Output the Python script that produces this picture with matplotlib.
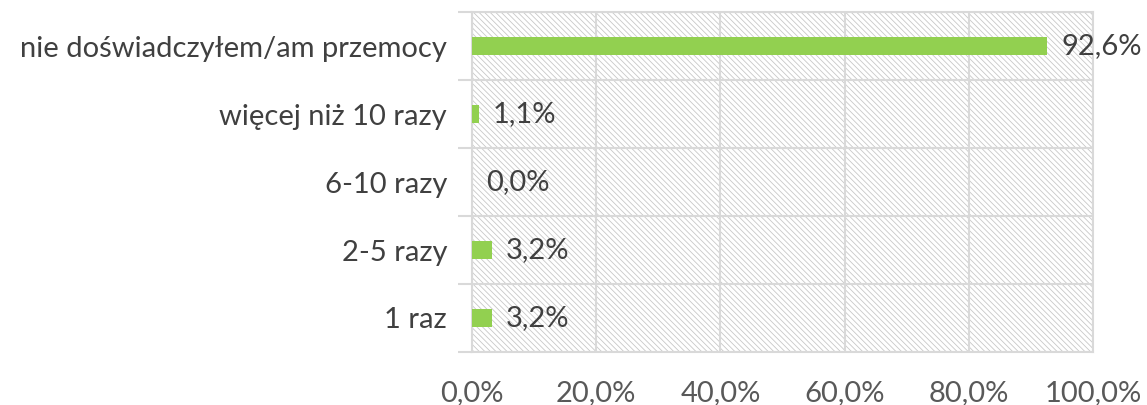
import matplotlib.pyplot as plt
import numpy as np

categories = ['1 raz', '2-5 razy', '6-10 razy', 'więcej niż 10 razy', 'nie doświadczyłem/am przemocy']
values = [3.2, 3.2, 0.0, 1.1, 92.6]
xticks = [0, 20, 40, 60, 80, 100]

plt.rcParams['font.family'] = ['Lato', 'DejaVu Sans']
plt.rcParams['hatch.linewidth'] = 0.6

grid_col = '#d9d9d9'
green = '#92d050'
fs = 21

fig = plt.figure(figsize=(11.47, 4.05), dpi=100)
ax = fig.add_axes([472 / 1147, 53 / 405, 621 / 1147, 340 / 405])

# hatched background
ax.add_patch(plt.Rectangle((0, -0.5), 100, len(categories), facecolor='white',
                           edgecolor='#c8c8c8', linewidth=0, hatch='\\' * 6, zorder=0.5))

y = np.arange(len(categories))
ax.barh(y, values, height=0.27, color=green, zorder=3)

for yi, v in zip(y, values):
    ax.text(v + 2.3, yi, f'{v:.1f}%'.replace('.', ','), va='center', ha='left',
            fontsize=fs, color='#404040', zorder=4)

ax.set_xlim(0, 100)
ax.set_ylim(-0.5, len(categories) - 0.5)
ax.set_xticks(xticks)
ax.set_xticklabels([f'{t:.1f}%'.replace('.', ',') for t in xticks], fontsize=fs, color='#595959')
ax.set_yticks(y)
ax.set_yticklabels(categories, fontsize=fs, color='#404040')
ax.set_yticks(np.arange(-0.5, len(categories), 1), minor=True)

ax.tick_params(axis='y', which='major', length=0, pad=18)
ax.tick_params(axis='y', which='minor', length=10, color=grid_col, width=1.5)
ax.tick_params(axis='x', length=0, pad=20)

ax.grid(axis='x', which='major', color=grid_col, linewidth=1.5, zorder=1)
ax.grid(axis='y', which='minor', color=grid_col, linewidth=1.5, zorder=1)
for s in ax.spines.values():
    s.set_color(grid_col)
    s.set_linewidth(1.5)
ax.set_axisbelow(True)

plt.savefig('out.png', dpi=100)
